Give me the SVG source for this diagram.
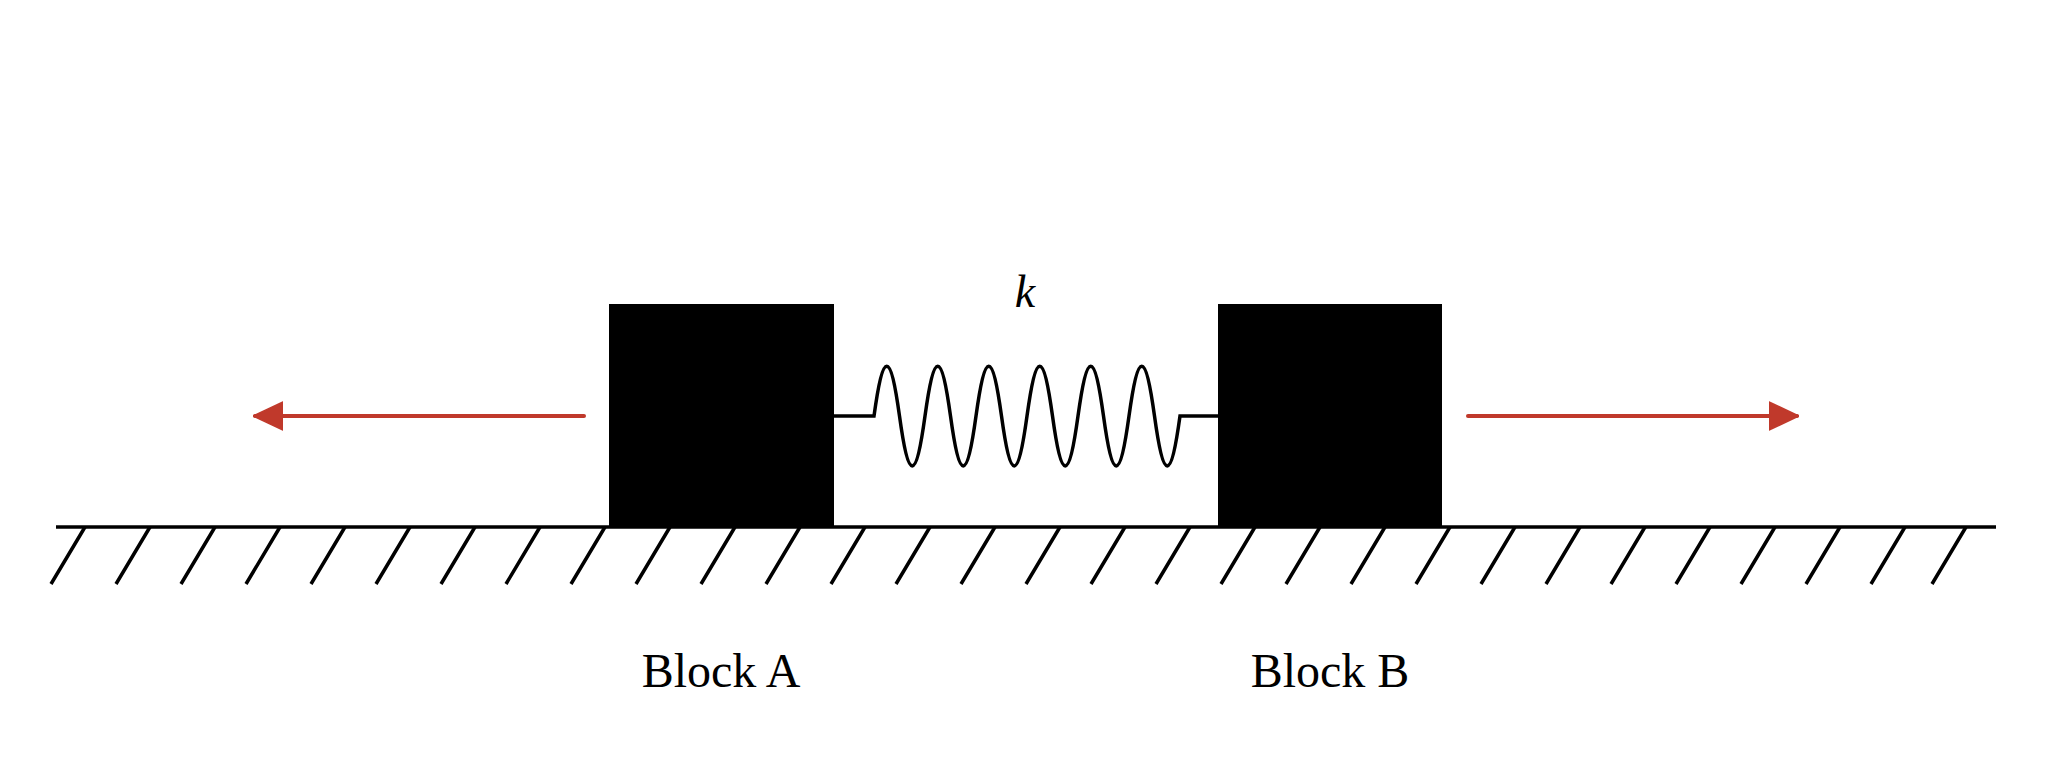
<svg xmlns="http://www.w3.org/2000/svg" width="2052" height="779" viewBox="0 0 2052 779">
<style>
.ln{stroke:#000;stroke-width:3.5;fill:none;stroke-linecap:butt}
.ar{stroke:#c0392b;stroke-width:4;fill:none;stroke-linecap:round}
.lbl{font-family:"Liberation Serif",serif;font-size:48px;fill:#000;text-anchor:middle}
</style>
<defs>
<marker id="ah" viewBox="0 0 30 30" refX="28" refY="15" markerWidth="30" markerHeight="30" markerUnits="userSpaceOnUse" orient="auto">
<path d="M0,1 L30,15 L0,29 Z" fill="#c0392b" stroke="#c0392b" stroke-width="1.5" stroke-linejoin="round"/>
</marker>
</defs>
<rect width="2052" height="779" fill="#fff"/>
<g id="ground">
<line class="ln" x1="56" y1="527" x2="1996" y2="527"/>
<path class="ln" d="M85,527 l-34,57 M150,527 l-34,57 M215,527 l-34,57 M280,527 l-34,57 M345,527 l-34,57 M410,527 l-34,57 M475,527 l-34,57 M540,527 l-34,57 M605,527 l-34,57 M670,527 l-34,57 M735,527 l-34,57 M800,527 l-34,57 M865,527 l-34,57 M930,527 l-34,57 M995,527 l-34,57 M1060,527 l-34,57 M1125,527 l-34,57 M1190,527 l-34,57 M1255,527 l-34,57 M1320,527 l-34,57 M1385,527 l-34,57 M1450,527 l-34,57 M1515,527 l-34,57 M1580,527 l-34,57 M1645,527 l-34,57 M1710,527 l-34,57 M1775,527 l-34,57 M1840,527 l-34,57 M1905,527 l-34,57 M1966,527 l-34,57"/>
</g>
<g id="blockA"><rect x="609" y="304" width="225" height="223" fill="#000"/><text class="lbl" x="721" y="687">Block A</text></g>
<g id="blockB"><rect x="1218" y="304" width="224" height="223" fill="#000"/><text class="lbl" x="1330" y="687">Block B</text></g>
<g id="connectors">
<g id="spring">
<path class="ln" stroke-width="3" d="M834,416 H874 c9.2,-66.5 16.3,-66.5 25.5,0 c9.2,66.5 16.3,66.5 25.5,0 c9.2,-66.5 16.3,-66.5 25.5,0 c9.2,66.5 16.3,66.5 25.5,0 c9.2,-66.5 16.3,-66.5 25.5,0 c9.2,66.5 16.3,66.5 25.5,0 c9.2,-66.5 16.3,-66.5 25.5,0 c9.2,66.5 16.3,66.5 25.5,0 c9.2,-66.5 16.3,-66.5 25.5,0 c9.2,66.5 16.3,66.5 25.5,0 c9.2,-66.5 16.3,-66.5 25.5,0 c9.2,66.5 16.3,66.5 25.5,0 H1218"/>
<text x="1025" y="307" font-family="Liberation Serif,serif" font-style="italic" font-size="46" text-anchor="middle">k</text>
</g>
<line class="ar" x1="584" y1="416" x2="255" y2="416" marker-end="url(#ah)"/>
<line class="ar" x1="1468" y1="416" x2="1797" y2="416" marker-end="url(#ah)"/>
</g>
</svg>
